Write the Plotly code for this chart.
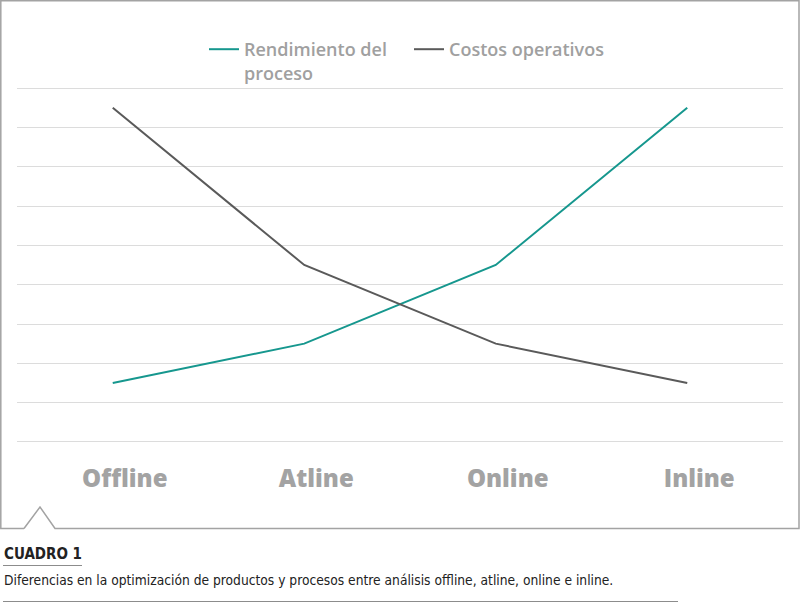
import plotly.graph_objects as go

categories = ["Offline", "Atline", "Online", "Inline"]
rendimiento = [1.5, 2.5, 4.5, 8.5]
costos = [8.5, 4.5, 2.5, 1.5]
series_names = ["Rendimiento del<br>proceso", "Costos operativos"]

W, H = 800, 604
UNIT = 39.27
PAD = 4
ML, MR, MT, MB = 17, 17, 88 - PAD, 162 - PAD
PW, PH = W - ML - MR, H - MT - MB
EXT = PAD / UNIT


def px(x):
    return (x - ML) / PW


def py(y):
    return (H - MB - y) / PH


fig = go.Figure()
fig.add_trace(go.Scatter(x=categories, y=rendimiento, mode="lines", name=series_names[0],
                         line=dict(color="#16978e", width=2)))
fig.add_trace(go.Scatter(x=categories, y=costos, mode="lines", name=series_names[1],
                         line=dict(color="#5a5a5a", width=2)))

frame_col = "#a3a3a3"
shapes = [
    dict(type="path", xref="paper", yref="paper",
         path=(f"M {px(24)},{py(528.5)} L {px(0.8)},{py(528.5)} L {px(0.8)},{py(0.8)} "
               f"L {px(799)},{py(0.8)} L {px(799)},{py(528.5)} L {px(55)},{py(528.5)} "
               f"L {px(40)},{py(507)} L {px(24)},{py(528.5)}"),
         line=dict(color=frame_col, width=1.5)),
    dict(type="line", xref="paper", yref="paper", x0=px(3), x1=px(82), y0=py(565.5), y1=py(565.5),
         line=dict(color="#8c8c8c", width=1)),
    dict(type="line", xref="paper", yref="paper", x0=px(3), x1=px(678), y0=py(601.5), y1=py(601.5),
         line=dict(color="#8c8c8c", width=1)),
]

annotations = [
    dict(text="<b>CUADRO 1</b>", xref="paper", yref="paper", x=px(2), y=py(554), xanchor="left",
         yanchor="middle", showarrow=False,
         font=dict(family="DejaVu Sans Condensed", size=15, color="#222222")),
    dict(text="Diferencias en la optimización de productos y procesos entre análisis offline, atline, online e inline.",
         xref="paper", yref="paper", x=px(2), y=py(580), xanchor="left", yanchor="middle", showarrow=False,
         font=dict(family="DejaVu Sans Condensed", size=13.7, color="#222222")),
]

fig.update_layout(
    width=W, height=H,
    margin=dict(l=ML, r=MR, t=MT, b=MB, pad=0),
    paper_bgcolor="white", plot_bgcolor="white",
    showlegend=True,
    legend=dict(orientation="h", x=px(204), y=py(31), xanchor="left", yanchor="top",
                valign="top", entrywidth=160, entrywidthmode="pixels",
                font=dict(family="Open Sans", size=18, color="#a0a0a0", weight=600),
                bgcolor="rgba(0,0,0,0)"),
    xaxis=dict(range=[-0.5, 3.5], showgrid=False, zeroline=False, showline=False,
               tickfont=dict(family="Open Sans", size=24, color="#a3a3a3", weight=800),
               ticks="", ticklabelstandoff=20 - PAD, ticklabelshift=12),
    yaxis=dict(range=[-EXT, 9 + EXT], dtick=1, showgrid=True, gridcolor="#dcdcdc", gridwidth=1,
               zeroline=False, showline=False, showticklabels=False, ticks=""),
    shapes=shapes,
    annotations=annotations,
)

fig.write_html("out.html")
